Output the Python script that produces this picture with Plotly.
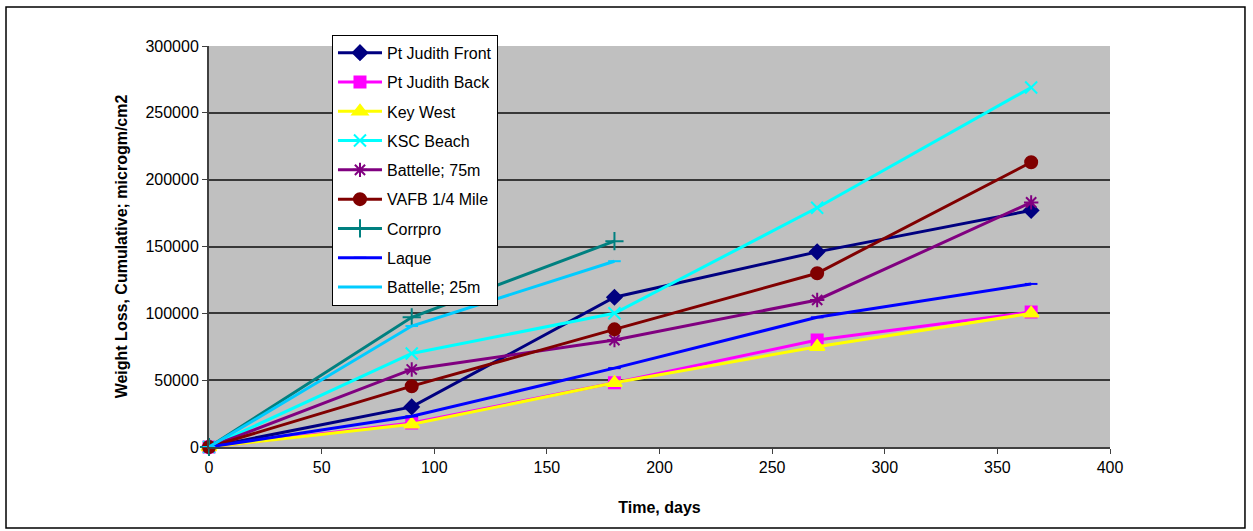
import plotly.graph_objects as go

# Exposure time in days
days_full = [0, 90, 180, 270, 365]
days_short = [0, 90, 180]

# Cumulative weight loss, microgm/cm2
pt_judith_front = [0, 30000, 112000, 146000, 177000]
pt_judith_back = [0, 18000, 48000, 80000, 101000]
key_west = [0, 17000, 48000, 75000, 100000]
ksc_beach = [0, 70000, 100000, 179000, 269000]
battelle_75m = [0, 58000, 80000, 110000, 183000]
vafb_quarter_mile = [0, 45500, 88000, 130000, 213000]
corrpro = [0, 97000, 154000]
laque = [0, 23000, 59000, 97000, 122000]
battelle_25m = [0, 90500, 139000]

series = [
    ("Pt Judith Front", days_full, pt_judith_front, "#000080", "diamond", 11),
    ("Pt Judith Back", days_full, pt_judith_back, "#FF00FF", "square", 11),
    ("Key West", days_full, key_west, "#FFFF00", "triangle-up", 13),
    ("KSC Beach", days_full, ksc_beach, "#00FFFF", "x-thin", 12),
    ("Battelle; 75m", days_full, battelle_75m, "#800080", "asterisk", 12),
    ("VAFB 1/4 Mile", days_full, vafb_quarter_mile, "#800000", "circle", 12),
    ("Corrpro", days_short, corrpro, "#008080", "cross-thin", 13),
    ("Laque", days_full, laque, "#0000FF", "line-ew", 9),
    ("Battelle; 25m", days_short, battelle_25m, "#00CCFF", "line-ew", 9),
]

fig = go.Figure()
for name, x, y, color, symbol, size in series:
    fig.add_trace(go.Scatter(
        x=x, y=y, name=name, mode="lines+markers",
        legendgroup=name, cliponaxis=False,
        line=dict(color=color, width=3),
        marker=dict(symbol=symbol, size=size, color=color,
                    line=dict(color=color, width=2)),
    ))

fig.update_layout(
    width=1253, height=531,
    margin=dict(l=209, r=143, t=46, b=84),
    paper_bgcolor="white",
    plot_bgcolor="#C0C0C0",
    font=dict(family="Arial, Liberation Sans, sans-serif", size=16, color="black"),
    showlegend=True,
    legend=dict(
        x=0.1365, y=1.028, xanchor="left", yanchor="top",
        bgcolor="white", bordercolor="black", borderwidth=1,
        font=dict(size=16), tracegroupgap=5.5,
        itemwidth=44, maxheight=400,
    ),
    xaxis=dict(
        range=[0, 400], tick0=0, dtick=50,
        showgrid=False, zeroline=False,
        showline=True, linecolor="#404040", linewidth=2,
        ticks="outside", ticklen=5, tickcolor="#404040",
        tickfont=dict(size=16),
        title=dict(text="<b>Time, days</b>", standoff=27, font=dict(size=16)),
    ),
    yaxis=dict(
        range=[0, 300000], tick0=0, dtick=50000,
        showgrid=True, gridcolor="#383838", gridwidth=1.5,
        zeroline=False,
        showline=True, linecolor="#404040", linewidth=2,
        ticks="outside", ticklen=5, tickcolor="#404040",
        tickformat="d", tickfont=dict(size=16),
        title=dict(text="<b>Weight Loss, Cumulative; microgm/cm2</b>", standoff=14,
                   font=dict(size=16)),
    ),
    shapes=[dict(
        type="rect", xref="paper", yref="paper",
        x0=-0.2253, x1=1.1498, y0=-0.202, y1=1.097,
        line=dict(color="black", width=1.5), fillcolor="rgba(0,0,0,0)",
        layer="below",
    )],
)

fig.write_html("out.html")
